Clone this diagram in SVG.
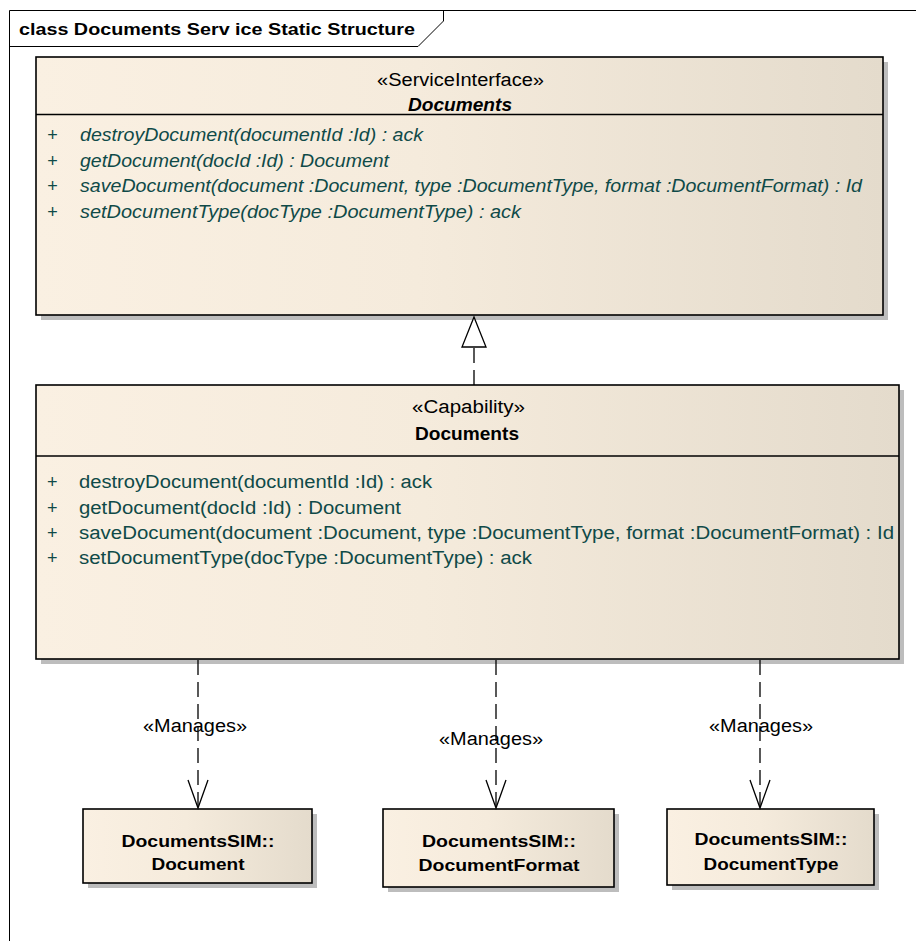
<svg xmlns="http://www.w3.org/2000/svg" width="916" height="941" viewBox="0 0 916 941">
<style>
text{font-family:"Liberation Sans",Arial,sans-serif;}
.frame{fill:none;stroke:#000;stroke-width:1;}
.box{fill:url(#g);stroke:#000;stroke-width:1.6;}
.shadow{fill:#bdbdbd;}
.sep{stroke:#000;stroke-width:1.4;}
.ster{font-size:18px;fill:#000;}
.name{font-size:18px;font-weight:bold;fill:#000;}
.op{font-size:18px;fill:#0f4a48;}
.opi{font-size:18px;fill:#0f4a48;font-style:italic;}
.bx{font-size:17px;font-weight:bold;fill:#000;}
.dep{fill:none;stroke:#000;stroke-width:1.3;stroke-dasharray:15,7;}
.head{fill:none;stroke:#000;stroke-width:1.3;}
.lbl{font-size:18px;fill:#000;}
</style>
<defs>
<linearGradient id="g" x1="0" y1="0" x2="1" y2="0">
<stop offset="0" stop-color="#faf0e2"/>
<stop offset="0.45" stop-color="#f5ebdc"/>
<stop offset="1" stop-color="#e4dbcc"/>
</linearGradient>
</defs>
<rect x="0" y="0" width="916" height="941" fill="#fff"/>
<g id="frame">
<path class="frame" d="M9.5,941 V10.5 H916"/>
<path class="frame" d="M9.5,46.5 H418 L443.5,21 V10.5"/>
<text x="19" y="35" font-size="16.5" font-weight="bold" textLength="396" lengthAdjust="spacingAndGlyphs">class Documents Serv ice Static Structure</text>
</g>
<g id="ServiceInterface_Documents">
<rect class="shadow" x="41" y="62" width="847" height="258"/>
<rect class="box" x="36" y="57" width="847" height="258"/>
<line class="sep" x1="36" y1="114.5" x2="883" y2="114.5"/>
<text class="ster" x="460.5" y="86" text-anchor="middle" textLength="167" lengthAdjust="spacingAndGlyphs">«ServiceInterface»</text>
<text class="name" x="460" y="111" text-anchor="middle" font-style="italic" textLength="104" lengthAdjust="spacingAndGlyphs">Documents</text>
<text class="opi" x="47" y="141">+</text>
<text class="opi" x="47" y="167">+</text>
<text class="opi" x="47" y="192">+</text>
<text class="opi" x="47" y="218">+</text>
<text class="opi" x="80" y="141" textLength="343" lengthAdjust="spacingAndGlyphs">destroyDocument(documentId :Id) : ack</text>
<text class="opi" x="80" y="167" textLength="309" lengthAdjust="spacingAndGlyphs">getDocument(docId :Id) : Document</text>
<text class="opi" x="80" y="192" textLength="782" lengthAdjust="spacingAndGlyphs">saveDocument(document :Document, type :DocumentType, format :DocumentFormat) : Id</text>
<text class="opi" x="80" y="218" textLength="441" lengthAdjust="spacingAndGlyphs">setDocumentType(docType :DocumentType) : ack</text>
</g>
<g id="Capability_Documents">
<rect class="shadow" x="41" y="390" width="863" height="274"/>
<rect class="box" x="36" y="385" width="863" height="274"/>
<line class="sep" x1="36" y1="456" x2="899" y2="456"/>
<text class="ster" x="468.5" y="413" text-anchor="middle" textLength="113" lengthAdjust="spacingAndGlyphs">«Capability»</text>
<text class="name" x="467" y="440" text-anchor="middle" textLength="104" lengthAdjust="spacingAndGlyphs">Documents</text>
<text class="op" x="47" y="488">+</text>
<text class="op" x="47" y="514">+</text>
<text class="op" x="47" y="539">+</text>
<text class="op" x="47" y="564">+</text>
<text class="op" x="79" y="488" textLength="353" lengthAdjust="spacingAndGlyphs">destroyDocument(documentId :Id) : ack</text>
<text class="op" x="79" y="514" textLength="322" lengthAdjust="spacingAndGlyphs">getDocument(docId :Id) : Document</text>
<text class="op" x="79" y="539" textLength="815" lengthAdjust="spacingAndGlyphs">saveDocument(document :Document, type :DocumentType, format :DocumentFormat) : Id</text>
<text class="op" x="79" y="564" textLength="453" lengthAdjust="spacingAndGlyphs">setDocumentType(docType :DocumentType) : ack</text>
</g>
<g id="DocumentsSIM_Document">
<rect class="shadow" x="88" y="814" width="229" height="74"/>
<rect class="box" x="83" y="809" width="229" height="74"/>
<text class="bx" x="198" y="847" text-anchor="middle" textLength="153" lengthAdjust="spacingAndGlyphs">DocumentsSIM::</text>
<text class="bx" x="198" y="870" text-anchor="middle" textLength="93" lengthAdjust="spacingAndGlyphs">Document</text>
</g>
<g id="DocumentsSIM_DocumentFormat">
<rect class="shadow" x="388" y="814" width="231" height="78"/>
<rect class="box" x="383" y="809" width="231" height="78"/>
<text class="bx" x="499" y="847" text-anchor="middle" textLength="154" lengthAdjust="spacingAndGlyphs">DocumentsSIM::</text>
<text class="bx" x="499" y="871" text-anchor="middle" textLength="161" lengthAdjust="spacingAndGlyphs">DocumentFormat</text>
</g>
<g id="DocumentsSIM_DocumentType">
<rect class="shadow" x="672" y="814" width="207" height="76"/>
<rect class="box" x="667" y="809" width="207" height="76"/>
<text class="bx" x="771" y="845" text-anchor="middle" textLength="153" lengthAdjust="spacingAndGlyphs">DocumentsSIM::</text>
<text class="bx" x="771" y="870" text-anchor="middle" textLength="135" lengthAdjust="spacingAndGlyphs">DocumentType</text>
</g>
<g id="connectors">
<line class="dep" x1="474" y1="385" x2="474" y2="347"/>
<polygon points="474,317 462,347 486,347" fill="#fff" stroke="#000" stroke-width="1.3"/>
<line class="dep" x1="198" y1="660" x2="198" y2="807"/>
<polyline class="head" points="188,780 198,808 208,780"/>
<text class="lbl" x="195" y="732" text-anchor="middle" textLength="104" lengthAdjust="spacingAndGlyphs">«Manages»</text>
<line class="dep" x1="496" y1="660" x2="496" y2="807"/>
<polyline class="head" points="486,780 496,808 506,780"/>
<text class="lbl" x="491" y="745" text-anchor="middle" textLength="104" lengthAdjust="spacingAndGlyphs">«Manages»</text>
<line class="dep" x1="760" y1="660" x2="760" y2="807"/>
<polyline class="head" points="750,780 760,808 770,780"/>
<text class="lbl" x="761" y="732" text-anchor="middle" textLength="104" lengthAdjust="spacingAndGlyphs">«Manages»</text>
</g>
</svg>
